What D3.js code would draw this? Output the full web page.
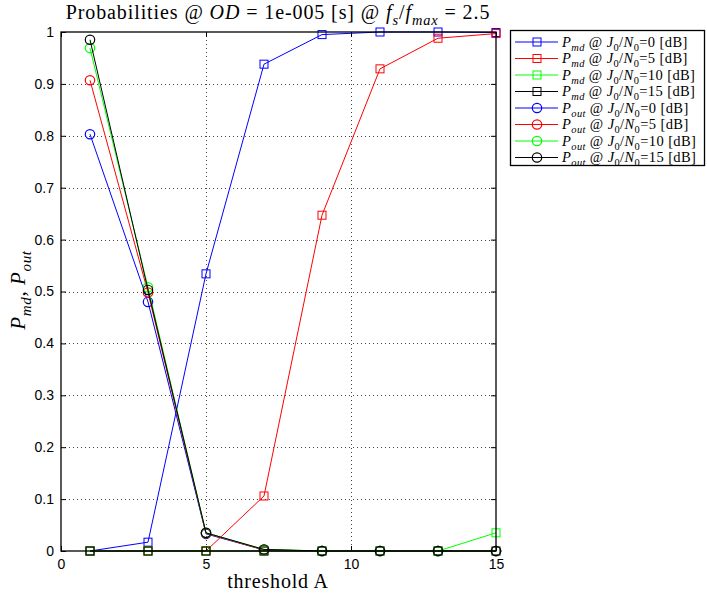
<!DOCTYPE html>
<html>
<head>
<meta charset="utf-8">
<script src="https://cdn.jsdelivr.net/npm/d3@7"></script>
<style>
  body { margin: 0; background: #fff; }
  svg { display: block; }
  .tick text { font-family: "Liberation Sans", Arial, sans-serif; font-size: 14px; fill: #000; }
</style>
</head>
<body>
<svg id="chart" width="707" height="596"></svg>
<script>
// ============================================================================
var thresholds = [1, 3, 5, 7, 9, 11, 13, 15];
var pmd0  = [0, 0.017, 0.534, 0.938, 0.995, 1.0, 1.0, 0.999];
var pmd5  = [0, 0, 0, 0.106, 0.647, 0.929, 0.988, 0.997];
var pmd10 = [0, 0, 0, 0, 0, 0, 0, 0.035];
var pmd15 = [0, 0, 0, 0, 0, 0, 0, 0];
var pout0  = [0.803, 0.480, 0.033, 0.002, 0, 0, 0, 0];
var pout5  = [0.907, 0.498, 0.034, 0.002, 0, 0, 0, 0];
var pout10 = [0.969, 0.508, 0.035, 0.003, 0, 0, 0, 0];
var pout15 = [0.985, 0.503, 0.035, 0.003, 0, 0, 0, 0];
var jn = ["0", "5", "10", "15"];
var xTicks = [0, 5, 10, 15];
var yTicks = [0, 0.1, 0.2, 0.3, 0.4, 0.5, 0.6, 0.7, 0.8, 0.9, 1];
var colors = ["#0000ff", "#ff0000", "#00ff00", "#000000"];

var series = [];
[pmd0, pmd5, pmd10, pmd15].forEach((v, i) => series.push({ vals: v, kind: "md", marker: "square", color: colors[i], jn: jn[i] }));
[pout0, pout5, pout10, pout15].forEach((v, i) => series.push({ vals: v, kind: "out", marker: "circle", color: colors[i], jn: jn[i] }));

// ============================================================================
var svg = d3.select("#chart");
var pl = 61, pr = 496, pt = 32, pb = 551;
var serif = "'Liberation Serif', 'Times New Roman', 'DejaVu Serif', serif";

var xScale = d3.scaleLinear().domain([0, 15]).range([pl, pr]);
var yScale = d3.scaleLinear().domain([0, 1]).range([pb, pt]);

// rich text helper: segments [text, italic, sub]
function rich(sel, segs, size) {
    var subSize = size * 0.72;
    var shift = size * 0.28;
    var down = false;
    sel.attr("font-family", serif).attr("fill", "#000");
    segs.forEach(function (s) {
        var t = sel.append("tspan").text(s[0]);
        if (s[1]) t.attr("font-style", "italic");
        if (s[2]) {
            t.attr("font-size", subSize);
            if (!down) { t.attr("dy", shift); down = true; }
        } else {
            t.attr("font-size", size);
            if (down) { t.attr("dy", -shift); down = false; }
        }
    });
}

// grid
var grid = svg.append("g").attr("stroke", "#444").attr("stroke-width", 1).attr("stroke-dasharray", "1,3");
grid.selectAll("line.gx").data(xTicks.slice(1, -1)).enter().append("line")
    .attr("x1", d => Math.round(xScale(d)) + 0.5).attr("x2", d => Math.round(xScale(d)) + 0.5)
    .attr("y1", pt).attr("y2", pb);
grid.selectAll("line.gy").data(yTicks.slice(1, -1)).enter().append("line")
    .attr("y1", d => Math.round(yScale(d)) + 0.5).attr("y2", d => Math.round(yScale(d)) + 0.5)
    .attr("x1", pl).attr("x2", pr);

// axes
var xAxis = d3.axisBottom(xScale).tickValues(xTicks).tickSize(-5).tickPadding(8).tickFormat(d3.format("d"));
var yAxis = d3.axisLeft(yScale).tickValues(yTicks).tickSize(-5).tickPadding(7).tickFormat(d => d === 0 || d === 1 ? d : d3.format(".1f")(d));
svg.append("g").attr("transform", `translate(0,${pb})`).call(xAxis).call(g => g.select(".domain").remove());
svg.append("g").attr("transform", `translate(${pl},0)`).call(yAxis).call(g => g.select(".domain").remove());
svg.append("g").attr("transform", `translate(0,${pt})`).call(d3.axisTop(xScale).tickValues(xTicks).tickSize(-5).tickFormat(""))
    .call(g => g.select(".domain").remove());
svg.append("g").attr("transform", `translate(${pr},0)`).call(d3.axisRight(yScale).tickValues(yTicks).tickSize(-5).tickFormat(""))
    .call(g => g.select(".domain").remove());

// series
var line = d3.line().x((d, i) => xScale(thresholds[i])).y(d => yScale(d));
function drawMarker(g, type, x, y, color) {
    if (type === "square")
        g.append("rect").attr("x", x - 4).attr("y", y - 4).attr("width", 8).attr("height", 8)
            .attr("fill", "none").attr("stroke", color).attr("stroke-width", 1);
    else
        g.append("circle").attr("cx", x).attr("cy", y).attr("r", 4.7)
            .attr("fill", "none").attr("stroke", color).attr("stroke-width", 1.2);
}
series.forEach(function (s) {
    var g = svg.append("g");
    g.append("path").datum(s.vals).attr("d", line).attr("fill", "none")
        .attr("stroke", s.color).attr("stroke-width", 1);
    s.vals.forEach((v, i) => drawMarker(g, s.marker, xScale(thresholds[i]), yScale(v), s.color));
});

svg.append("rect").attr("x", pl).attr("y", pt).attr("width", pr - pl).attr("height", pb - pt)
    .attr("fill", "none").attr("stroke", "#000").attr("stroke-width", 1.3);

// title and labels
rich(svg.append("text").attr("x", 278).attr("y", 19).attr("text-anchor", "middle")
    .attr("letter-spacing", 0.9),
    [["Probabilities @ "], ["OD", true], [" = 1e-005 [s] @ "], ["f", true], ["s", true, true], ["/"], ["f", true], ["max", true, true], [" = 2.5"]], 20);
rich(svg.append("text").attr("x", 278).attr("y", 588).attr("text-anchor", "middle")
    .attr("letter-spacing", 0.8),
    [["threshold A"]], 20);
rich(svg.append("text").attr("transform", "translate(25,290) rotate(-90)").attr("text-anchor", "middle")
    .attr("letter-spacing", 0.6),
    [["P", true], ["md", true, true], [", "], ["P", true], ["out", true, true]], 21);

// legend
var lg = svg.append("g");
lg.append("rect").attr("x", 510.5).attr("y", 30.5).attr("width", 194).attr("height", 135)
    .attr("fill", "#fff").attr("stroke", "#000").attr("stroke-width", 1.3);
series.forEach(function (s, i) {
    var y = 42 + i * 16.5;
    lg.append("line").attr("x1", 515).attr("x2", 558).attr("y1", y).attr("y2", y)
        .attr("stroke", s.color).attr("stroke-width", 1);
    drawMarker(lg, s.marker, 537, y, s.color);
    rich(lg.append("text").attr("x", 562).attr("y", y + 4.5)
        .attr("letter-spacing", 0.4),
        [["P", true], [s.kind, true, true], [" @ "], ["J", true], ["0", false, true], ["/"], ["N", true], ["0", false, true], ["=" + s.jn + " [dB]"]], 14.5);
});
</script>
</body>
</html>
